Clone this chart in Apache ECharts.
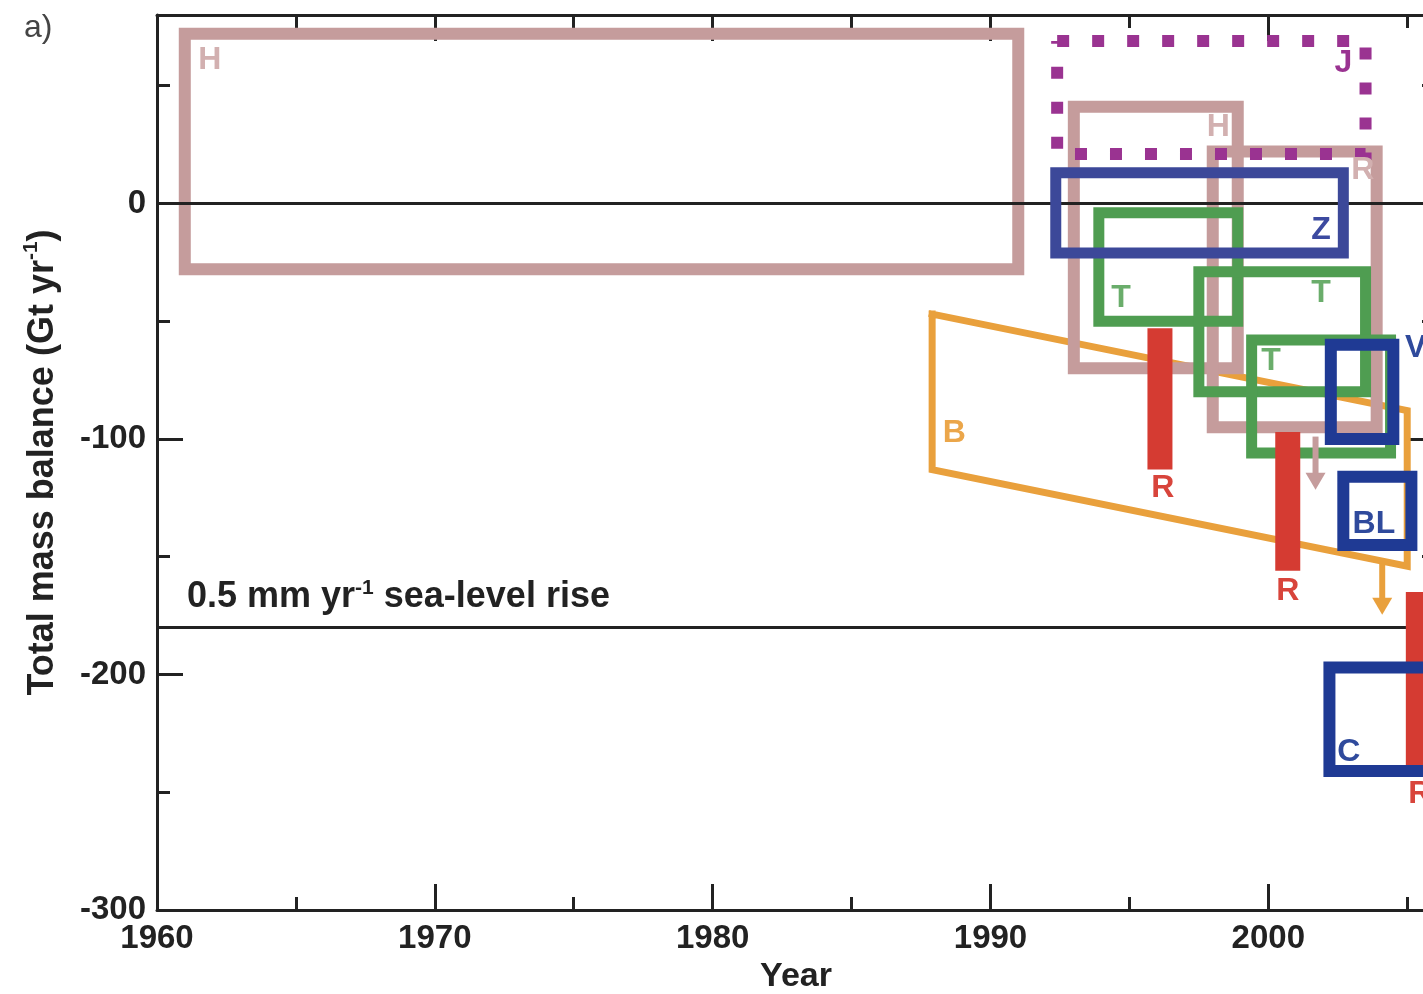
<!DOCTYPE html>
<html>
<head>
<meta charset="utf-8">
<title>Total mass balance</title>
<script src="https://cdn.jsdelivr.net/npm/echarts@6/dist/echarts.min.js"></script>
<style>
html, body { margin: 0; padding: 0; background: #fff; }
#chart { width: 1423px; height: 994px; }
</style>
</head>
<body>
<div id="chart"></div>
<script>
// ---------- data (year, Gt/yr) ----------
var xRange = [1960, 2006];
var yRange = [-300, 80];

// boxes: [startYear, endYear, top, bottom]
var hBoxes = [[1961.0, 1991.0, 72, -28], [1993.0, 1998.9, 41, -70], [1998.0, 2003.9, 22, -95]];
var jBox = [1992.4, 2003.5, 69, 21];
var zBox = [1992.35, 2002.7, 13, -21];
var tBoxes = [[1993.9, 1998.9, -4, -50], [1997.5, 2003.5, -29, -80], [1999.4, 2004.4, -58, -106]];
var blueBoxes = [[2002.25, 2004.5, -60, -100], [2002.7, 2005.15, -116, -145], [2002.2, 2006.3, -197, -241]];
// red bars: [year, top, bottom]
var rBars = [[1996.1, -53, -113], [2000.7, -97, -156], [2005.4, -165, -239]];
// B parallelogram corners
var bCorners = [[1987.9, -47], [2005.0, -88], [2005.0, -154], [1987.9, -113]];
// arrows: [year, from, head]
var hArrow = [2001.7, -99, -118];
var bArrow = [2004.1, -153, -171];
// horizontal reference lines
var zeroLine = 0;
var seaLevelLine = -180;

// box labels
var labelText  = ['H', 'J', 'H', 'R', 'Z', 'T', 'T', 'T', 'V', 'B', 'R', 'R', 'BL', 'C', 'R'];
var labelYear  = [1961.9, 2002.7, 1998.2, 2003.4, 2001.9, 1994.7, 2001.9, 2000.1, 2005.3, 1988.7, 1996.2, 2000.7, 2003.8, 2002.9, 2005.45];
var labelValue = [60.9, 59.6, 32.3, 14, -11.5, -40.4, -38.3, -66.8, -61.3, -97.4, -120.9, -164.7, -136.2, -232.8, -251];
var labelGroup = ['H', 'J', 'H', 'H', 'Z', 'T', 'T', 'T', 'blue', 'B', 'R', 'R', 'blue', 'blue', 'R'];

// ---------- styles ----------
var colors = {
	H: '#c59c9c',
	J: '#9a3391',
	Z: '#3c4899',
	blue: '#1f3a94',
	T: '#4f9d51',
	B: '#e9a03c',
	R: '#d53b32'
};
var labelColors = {
	H: '#d2b0b0',
	J: '#9a3391',
	Z: '#3c4aa0',
	blue: '#2f4a9c',
	T: '#6aad6b',
	B: '#eba64a',
	R: '#d8443b'
};
var FONT = 'Liberation Sans, Arial, sans-serif';
var INK = '#222';

function rectPath(b) {
	return [[b[0], b[2]], [b[1], b[2]], [b[1], b[3]], [b[0], b[3]], [b[0], b[2]]];
}

function polySeries(points, color, width, z, dash) {
	return {
		type: 'line',
		data: points,
		symbol: 'none',
		silent: true,
		z: z,
		clip: true,
		lineStyle: {
			color: color,
			width: width,
			type: dash || 'solid',
			cap: dash ? 'butt' : 'square',
			join: 'miter'
		}
	};
}

function arrowSeries(a, color, z) {
	return {
		type: 'line',
		symbol: 'none',
		showSymbol: true,
		silent: true,
		z: z,
		itemStyle: { color: color },
		lineStyle: { color: color, width: 6, cap: 'butt' },
		data: [
			[a[0], a[1]],
			{ value: [a[0], a[2]], symbol: 'triangle', symbolRotate: 180, symbolSize: [20, 17] }
		]
	};
}

var series = [];
// B (orange) at the bottom
series.push(polySeries(bCorners.concat([bCorners[0]]), colors.B, 7, 2));
hBoxes.forEach(function (b) { series.push(polySeries(rectPath(b), colors.H, 12, 3)); });
series.push(polySeries(rectPath(jBox), colors.J, 12, 4, [12, 23]));
tBoxes.forEach(function (b) { series.push(polySeries(rectPath(b), colors.T, 11, 5)); });
rBars.forEach(function (r) {
	var s = polySeries([[r[0], r[1]], [r[0], r[2]]], colors.R, 25, 6);
	s.lineStyle.cap = 'butt';
	series.push(s);
});
series.push(polySeries(rectPath(zBox), colors.Z, 11, 7));
blueBoxes.forEach(function (b) { series.push(polySeries(rectPath(b), colors.blue, 12, 7)); });
series.push(arrowSeries(hArrow, colors.H, 6));
series.push(arrowSeries(bArrow, colors.B, 6));

// reference lines + sea level text
series.push({
	type: 'line',
	data: [],
	silent: true,
	z: 9,
	markLine: {
		silent: true,
		symbol: 'none',
		animation: false,
		lineStyle: { color: INK, width: 3, type: 'solid' },
		label: { show: false },
		data: [
			{ yAxis: zeroLine },
			{
				yAxis: seaLevelLine,
				label: {
					show: true,
					position: 'insideStartTop',
					distance: [30, 12],
					formatter: '{n|0.5 mm yr}{s|-1}{n| sea-level rise}',
					rich: {
						n: { fontFamily: FONT, fontWeight: 'bold', fontSize: 36, color: INK, lineHeight: 38, verticalAlign: 'bottom' },
						s: { fontFamily: FONT, fontWeight: 'bold', fontSize: 21, color: INK, lineHeight: 16, verticalAlign: 'top' }
					}
				}
			}
		]
	}
});

// box letters
series.push({
	type: 'scatter',
	symbolSize: 0.1,
	silent: true,
	z: 10,
	itemStyle: { color: 'transparent', opacity: 1 },
	label: {
		show: true,
		position: 'inside',
		align: 'center',
		verticalAlign: 'middle',
		opacity: 1,
		fontFamily: FONT,
		fontWeight: 'bold',
		fontSize: 32,
		formatter: function (p) { return labelText[p.dataIndex]; }
	},
	data: labelText.map(function (t, i) {
		return { value: [labelYear[i], labelValue[i]], label: { color: labelColors[labelGroup[i]] } };
	})
});

function xAxisCfg(pos, interval, tickLen, main) {
	return {
		type: 'value',
		position: pos,
		min: xRange[0], max: xRange[1], interval: interval,
		axisLine: { show: main, onZero: false, lineStyle: { color: INK, width: 3 } },
		axisTick: { show: true, inside: true, length: tickLen, lineStyle: { color: INK, width: 3 } },
		axisLabel: {
			show: main && pos === 'bottom',
			showMaxLabel: false,
			margin: 12,
			formatter: function (v) { return String(v); },
			fontFamily: FONT, fontWeight: 'bold', fontSize: 33, color: INK
		},
		splitLine: { show: false }
	};
}

function yAxisCfg(pos, interval, tickLen, main) {
	return {
		type: 'value',
		position: pos,
		min: yRange[0], max: yRange[1], interval: interval,
		axisLine: { show: main, onZero: false, lineStyle: { color: INK, width: 3 } },
		axisTick: { show: true, inside: true, length: tickLen, lineStyle: { color: INK, width: 3 } },
		axisLabel: {
			show: main && pos === 'left',
			showMaxLabel: false,
			margin: 11,
			formatter: function (v) { return String(v); },
			fontFamily: FONT, fontWeight: 'bold', fontSize: 33, color: INK
		},
		splitLine: { show: false }
	};
}

var xAxes = [
	xAxisCfg('bottom', 10, 26, true),
	xAxisCfg('bottom', 5, 13, false),
	xAxisCfg('top', 10, 26, true),
	xAxisCfg('top', 5, 13, false)
];
xAxes[0].name = 'Year';
xAxes[0].nameLocation = 'middle';
xAxes[0].nameGap = 48;
xAxes[0].nameTextStyle = { fontFamily: FONT, fontWeight: 'bold', fontSize: 34, color: INK };

var yAxes = [
	yAxisCfg('left', 100, 26, true),
	yAxisCfg('left', 50, 13, false),
	yAxisCfg('right', 100, 26, true),
	yAxisCfg('right', 50, 13, false)
];
yAxes[0].name = '{n|Total mass balance (Gt yr}{s|-1}{n|)}';
yAxes[0].nameLocation = 'middle';
yAxes[0].nameGap = 96;
yAxes[0].nameTextStyle = {
	rich: {
		n: { fontFamily: FONT, fontWeight: 'bold', fontSize: 36, color: INK, lineHeight: 40, verticalAlign: 'bottom' },
		s: { fontFamily: FONT, fontWeight: 'bold', fontSize: 21, color: INK, lineHeight: 20, verticalAlign: 'top' }
	}
};

var myChart = echarts.init(document.getElementById('chart'), null, { renderer: 'canvas' });
myChart.setOption({
	animation: false,
	backgroundColor: '#fff',
	grid: { left: 157, top: 15, width: 1278, height: 895, containLabel: false, outerBoundsMode: 'none' },
	xAxis: xAxes,
	yAxis: yAxes,
	graphic: [{
		type: 'text',
		left: 24,
		top: 12,
		style: { text: 'a)', fontFamily: FONT, fontSize: 32, fill: '#444' }
	}],
	series: series
});
</script>
</body>
</html>
